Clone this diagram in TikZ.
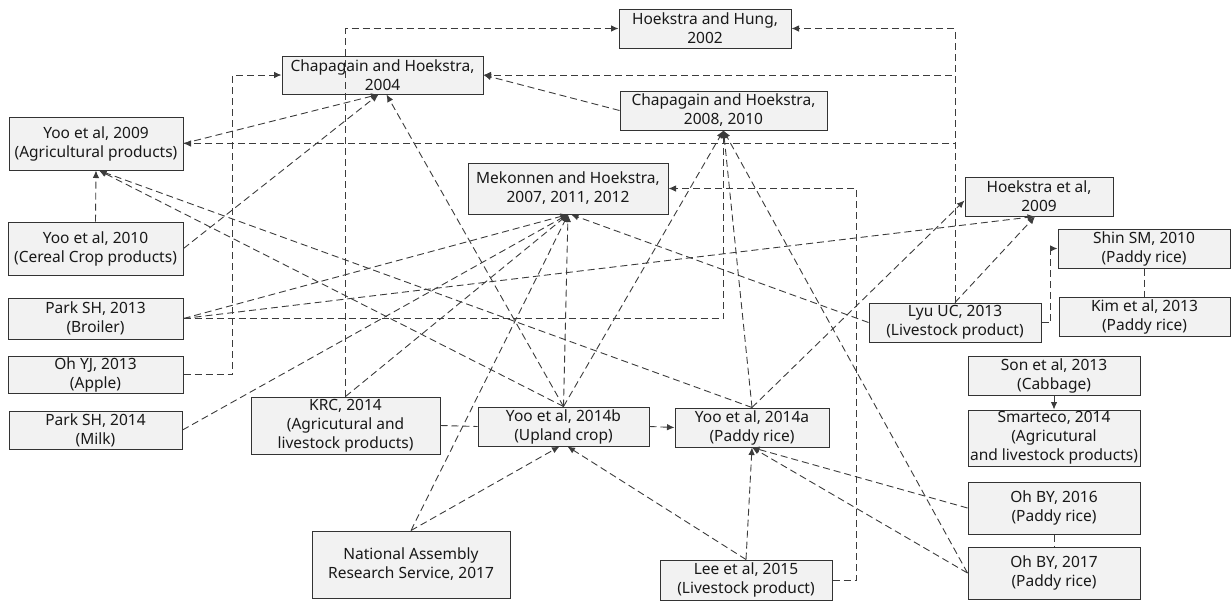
\documentclass[tikz,border=0pt]{standalone}
\usepackage{fontspec}
\setmainfont{Noto Sans}
\usetikzlibrary{arrows.meta,calc}
\definecolor{boxfill}{HTML}{F2F2F2}
\definecolor{boxline}{HTML}{333333}
\definecolor{lncol}{HTML}{3C3C3C}
\newcommand\mybox[6]{\node[box,minimum width=#4pt,minimum height=#5pt] (#1) at (#2,#3) {#6};}
\begin{document}
\begin{tikzpicture}[x=1pt,y=-1pt,
  box/.style={draw=boxline,line width=1pt,fill=boxfill,align=center,inner sep=0pt,
    font=\fontsize{15.5}{19}\selectfont,text=black!90},
  ln/.style={draw=lncol,line width=0.9pt,dash pattern=on 7pt off 4pt},
  ar/.style={ln,-{Latex[length=7.5pt,width=6.5pt]}},
]
\useasboundingbox (0,0) rectangle (1231,603);
% nodes
\mybox{hh02}{705}{28.5}{172}{39}{Hoekstra and Hung,\\2002}
\mybox{ch04}{382.5}{75}{201}{38}{Chapagain and Hoekstra,\\2004}
\mybox{ch08}{723.5}{110.5}{207}{39}{Chapagain and Hoekstra,\\2008, 2010}
\mybox{yoo09}{96}{143.5}{174}{53}{Yoo et al, 2009\\(Agricultural products)}
\mybox{mh}{568}{188.5}{200}{51}{Mekonnen and Hoekstra,\\2007, 2011, 2012}
\mybox{hea09}{1039}{196.5}{148}{39}{Hoekstra et al,\\2009}
\mybox{yoo10}{95.5}{248.5}{175}{53}{Yoo et al, 2010\\(Cereal Crop products)}
\mybox{psh13}{95.5}{318.5}{175}{41}{Park SH, 2013\\(Broiler)}
\mybox{ohyj}{95.5}{374.5}{175}{37}{Oh YJ, 2013\\(Apple)}
\mybox{psh14}{95.5}{430}{173}{38}{Park SH, 2014\\(Milk)}
\mybox{krc}{345.5}{425.5}{189}{57}{KRC, 2014\\(Agricutural and\\livestock products)}
\mybox{yoo14b}{563.5}{426.5}{171}{39}{Yoo et al, 2014b\\(Upland crop)}
\mybox{yoo14a}{752}{427.5}{154}{39}{Yoo et al, 2014a\\(Paddy rice)}
\mybox{nars}{411}{564.5}{198}{67}{National Assembly\\Research Service, 2017}
\mybox{lee}{746}{580}{172}{40}{Lee et al, 2015\\(Livestock product)}
\mybox{shin}{1144}{248.5}{172}{39}{Shin SM, 2010\\(Paddy rice)}
\mybox{lyu}{955}{322.5}{172}{39}{Lyu UC, 2013\\(Livestock product)}
\mybox{kim}{1144.5}{316.5}{171}{39}{Kim et al, 2013\\(Paddy rice)}
\mybox{son}{1054}{375.5}{172}{39}{Son et al, 2013\\(Cabbage)}
\mybox{smart}{1054}{438}{172}{56}{Smarteco, 2014\\(Agricutural\\and livestock products)}
\mybox{ohby16}{1054}{508}{172}{52}{Oh BY, 2016\\(Paddy rice)}
\mybox{ohby17}{1054}{573}{172}{52}{Oh BY, 2017\\(Paddy rice)}
% connectors
\draw[ar] (krc.north) |- (hh02.west);
\draw[ar] (lyu.north) |- (hh02.east);
\draw[ar] (lyu.north) |- (ch04.east);
\draw[ar] (lyu.north) |- (yoo09.east);
\draw[ar] (lyu.north) -- ([xshift=-4pt]hea09.south);
\draw[ar] (yoo14a.north) -- ([yshift=-4pt]hea09.west);
\draw[ar] (psh13.east) -- ([xshift=-4pt]hea09.south);
\draw[ar] (psh13.east) -- (mh.south);
\draw[ar] (psh13.east) -| (ch08.south);
\draw[ar] (yoo10.north) -- (yoo09.south);
\draw[ar] (yoo10.east) -- ([xshift=-4pt]ch04.south);
\draw[ar] (yoo09.east) -- ([xshift=-4pt]ch04.south);
\draw[ar] (yoo14b.north) -- ([xshift=4pt]ch04.south);
\draw[ar] (ohyj.east) -- ++(49,0) |- (ch04.west);
\draw[ar] (ch08.west) -- (ch04.east);
\draw[ar] (yoo14b.north) -- (ch08.south);
\draw[ar] (yoo14a.north) -- (ch08.south);
\draw[ar] (ohby17.west) -- (ch08.south);
\draw[ar] (yoo14b.north) -- (mh.south);
\draw[ar] (yoo14b.north) -- ([xshift=3pt]yoo09.south);
\draw[ar] (yoo14a.north) -- ([xshift=3pt]yoo09.south);
\draw[ar] (krc.north) -- (mh.south);
\draw[ar] (psh14.east) -- (mh.south);
\draw[ar] (nars.north) -- (mh.south);
\draw[ar] (lyu.west) -- ([xshift=3pt]mh.south);
\draw[ar] (nars.north) -- ([xshift=-4pt]yoo14b.south);
\draw[ar] (lee.north) -- ([xshift=4pt]yoo14b.south);
\draw[ar] (lee.north) -- (yoo14a.south);
\draw[ar] (lee.east) -- ++(24,0) |- (mh.east);
\draw[ln] (krc.east) -- (yoo14b.west);
\draw[ar] (yoo14b.east) -- (yoo14a.west);
\draw[ar] (ohby16.west) -- (yoo14a.south);
\draw[ar] (ohby17.west) -- (yoo14a.south);
\draw[ar] (lyu.east) -- ++(9,0) |- (shin.west);
\draw[ln] (shin.south) -- (kim.north -| shin.south);
\draw[ar] (son.south) -- (smart.north);
\draw[ln] (ohby16.south) -- (ohby17.north);
\end{tikzpicture}
\end{document}
